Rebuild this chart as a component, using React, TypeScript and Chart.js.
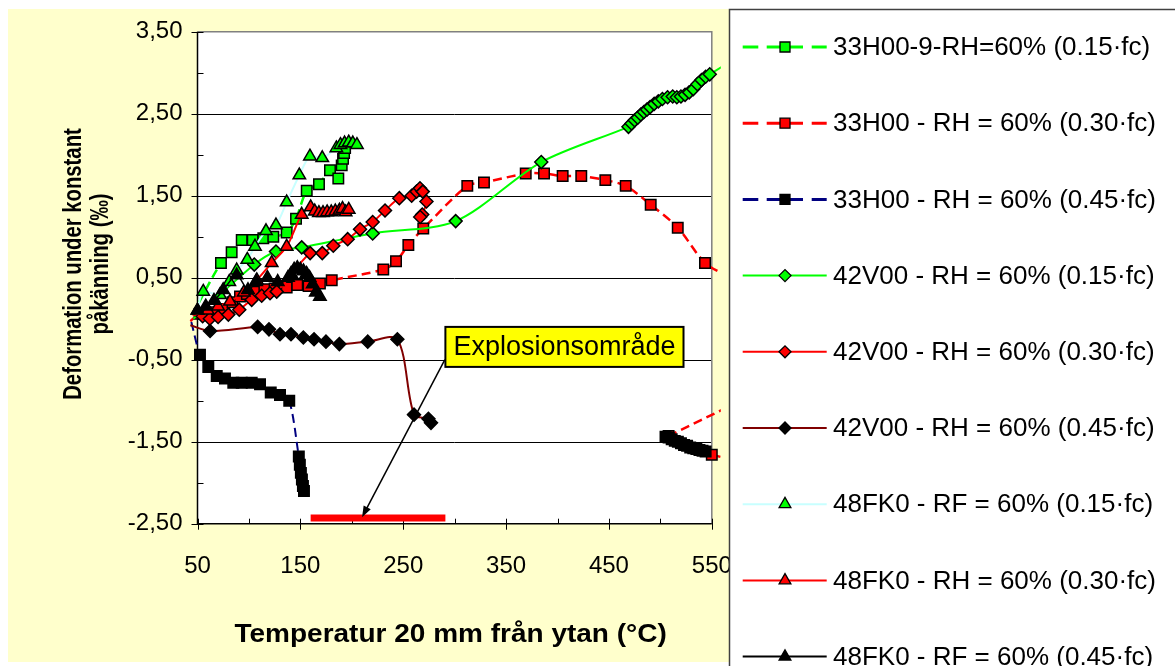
import React, { useEffect, useRef } from 'react';
import { Chart, registerables } from 'chart.js';

Chart.register(...registerables);

const FONT = '"Liberation Sans", Arial, Helvetica, sans-serif';

// ---------- axes ----------
const X_MIN = 50;
const X_MAX = 550;
const Y_MIN = -2.5;
const Y_MAX = 3.5;
const xTickLabels = [50, 150, 250, 350, 450, 550];
const yTickLabels = [3.5, 2.5, 1.5, 0.5, -0.5, -1.5, -2.5];
const xAxisTitle = 'Temperatur 20 mm från ytan (°C)';
const yAxisTitle = ['Deformation under konstant', 'påkänning (‰)'];

// ---------- series ----------
const seriesNames = [
  '33H00-9-RH=60% (0.15·fc)',
  '33H00 - RH = 60% (0.30·fc)',
  '33H00 - RH = 60% (0.45·fc)',
  '42V00 - RH = 60% (0.15·fc)',
  '42V00 - RH = 60% (0.30·fc)',
  '42V00 - RH = 60% (0.45·fc)',
  '48FK0 - RF = 60% (0.15·fc)',
  '48FK0 - RH = 60% (0.30·fc)',
  '48FK0 - RF = 60% (0.45·fc)',
];

// 33H00-9 (0.15 fc)
const s1X = [45, 72.8, 83.2, 93.0, 103.7, 114.0, 123.7, 136.7, 145.8, 156.2, 168.1, 178.8, 186.9, 190.2, 191.5, 192.5, 193.5];
const s1Y = [0.05, 0.68, 0.81, 0.96, 0.96, 0.98, 1.0, 1.05, 1.22, 1.56, 1.64, 1.81, 1.71, 1.87, 1.95, 2.02, 2.08];
// 33H00 (0.30 fc)
const s2X = [43, 52, 60, 68, 76, 84, 91.3, 98, 107, 115, 125, 136.7, 147, 158, 169, 180.5, 230.6, 243, 255, 269.5, 312.3, 328.5, 369.1, 386.9, 405, 423.1, 446.5, 466.3, 490.6, 516.9, 543.4, 565, null, 508, 570, null, 550, 570];
const s2Y = [-0.03, 0.06, 0.05, 0.08, 0.12, 0.2, 0.27, 0.3, 0.33, 0.36, 0.37, 0.38, 0.41, 0.4, 0.43, 0.47, 0.6, 0.7, 0.9, 1.1, 1.62, 1.66, 1.77, 1.77, 1.74, 1.74, 1.69, 1.62, 1.39, 1.11, 0.68, 0.52, null, -1.43, -1.05, null, -1.66, -1.72];
// 33H00 (0.45 fc)
const s3X = [44, 52.4, 60.5, 68.7, 76.7, 84.8, 93, 102.7, 110.8, 121.2, 130.2, 139.2, 148.5, 149.5, 150.5, 151.5, 152.5, 153.5, null, 505, 508, 511, 514, 517, 520, 523, 526, 529, 532, 535, 538, 541, 544];
const s3Y = [-0.04, -0.44, -0.59, -0.7, -0.73, -0.78, -0.78, -0.78, -0.8, -0.9, -0.93, -1.0, -1.68, -1.78, -1.88, -1.96, -2.04, -2.1, null, -1.44, -1.45, -1.47, -1.49, -1.5, -1.52, -1.54, -1.55, -1.57, -1.58, -1.59, -1.6, -1.61, -1.62];
// 42V00 (0.15 fc)
const s4X = [46, 105.2, 126.3, 151.3, 220.3, 301, 384.2, 469, 472, 475, 478, 481, 484, 487, 490, 494, 498, 502, 507, 512, 516, 520, 524, 528, 532, 536, 540, 544, 548, 570];
const s4Y = [0.0, 0.66, 0.82, 0.87, 1.04, 1.19, 1.91, 2.34, 2.38, 2.42, 2.45, 2.49, 2.52, 2.55, 2.58, 2.62, 2.65, 2.68, 2.7, 2.71, 2.7, 2.71, 2.73, 2.76, 2.8, 2.86, 2.91, 2.95, 2.98, 3.15];
// 42V00 (0.30 fc)
const s5X = [45, 55, 62, 70, 80, 90.6, 102.7, 112.4, 120.5, 127, 159.5, 171.3, 182, 196, 208, 220.3, 232.3, 246.2, 258.2, 263, 266.3, 269, 272.6, 268.5, 266.5];
const s5Y = [0.05, 0.03, 0.0, 0.02, 0.05, 0.11, 0.23, 0.28, 0.31, 0.33, 0.8, 0.8, 0.89, 0.97, 1.09, 1.18, 1.32, 1.47, 1.5, 1.55, 1.59, 1.55, 1.43, 1.27, 1.24];
// 42V00 (0.45 fc)
const s6X = [43, 62.2, 108.5, 119.5, 130.2, 140.9, 152.9, 163.3, 174.9, 187.9, 215.5, 244.3, 260.5, 274.5, 277];
const s6Y = [-0.08, -0.15, -0.1, -0.13, -0.19, -0.19, -0.23, -0.25, -0.28, -0.31, -0.28, -0.25, -1.17, -1.22, -1.27];
// 48FK0 RF (0.15 fc)
const s7X = [50, 55.6, 71.9, 80.9, 88.1, 98.4, 105.9, 116.6, 126.3, 136.7, 149, 159.3, 171.3, 185, 189, 193, 197, 201, 205];
const s7Y = [0.1, 0.33, 0.29, 0.45, 0.59, 0.72, 0.88, 1.07, 1.14, 1.42, 1.75, 1.98, 1.96, 2.08, 2.12, 2.14, 2.15, 2.14, 2.12];
// 48FK0 RH (0.30 fc)
const s8X = [48, 60, 70, 81.6, 95, 107.6, 122.1, 136.7, 151.3, 160, 164, 168, 172, 176, 180, 184, 188, 191, 194, 197];
const s8Y = [0.05, 0.1, 0.15, 0.21, 0.32, 0.47, 0.68, 0.88, 1.27, 1.36, 1.31, 1.29, 1.29, 1.3, 1.3, 1.31, 1.32, 1.34, 1.3, 1.33];
// 48FK0 RF (0.45 fc)
const s9X = [50, 58, 66, 75, 88.1, 99.1, 107, 118, 128, 138, 141, 144, 147, 150, 153, 156, 159, 162, 165, 169];
const s9Y = [0.1, 0.15, 0.22, 0.35, 0.53, 0.35, 0.45, 0.5, 0.45, 0.5, 0.55, 0.6, 0.62, 0.6, 0.58, 0.55, 0.5, 0.42, 0.32, 0.27];

const seriesX = [s1X, s2X, s3X, s4X, s5X, s6X, s7X, s8X, s9X];
const seriesY = [s1Y, s2Y, s3Y, s4Y, s5Y, s6Y, s7Y, s8Y, s9Y];

// explosion range (red bar) and its label
const explosionX = [160, 291];
const explosionY = [-2.43, -2.43];
const annotationText = 'Explosionsområde';
const annotationAnchor = { x: 291, y: -0.1 };
const arrowFrom = { x: 290.5, y: -0.5 };
const arrowTo = { x: 210, y: -2.42 };

// ---------- styles ----------
type Style = { line: string; width: number; dash: number[]; point: string; fill: string; r: number };
const DASH = [9, 5];
const STYLES: Style[] = [
  { line: '#00FF00', width: 2.5, dash: DASH, point: 'rect', fill: '#00FF00', r: 7.4 },
  { line: '#FF0000', width: 2.5, dash: DASH, point: 'rect', fill: '#FF0000', r: 7.4 },
  { line: '#000080', width: 2, dash: DASH, point: 'rect', fill: '#000000', r: 7.4 },
  { line: '#00FF00', width: 2, dash: [], point: 'rectRot', fill: '#00FF00', r: 6.5 },
  { line: '#FF0000', width: 2, dash: [], point: 'rectRot', fill: '#FF0000', r: 6.5 },
  { line: '#800000', width: 2, dash: [], point: 'rectRot', fill: '#000000', r: 6.5 },
  { line: '#C8FFFF', width: 2, dash: [], point: 'triangle', fill: '#00FF00', r: 7.2 },
  { line: '#FF0000', width: 2, dash: [], point: 'triangle', fill: '#FF0000', r: 7.2 },
  { line: '#000000', width: 1.5, dash: [], point: 'triangle', fill: '#000000', r: 7.2 },
];

const fmtY = (v: number) => v.toFixed(2).replace('.', ',');
const near = (a: number, b: number) => Math.abs(a - b) < 1e-6;

function legendMarker(ctx: CanvasRenderingContext2D, s: Style, x: number, y: number) {
  ctx.save();
  ctx.setLineDash([]);
  ctx.fillStyle = s.fill;
  ctx.strokeStyle = '#000';
  ctx.lineWidth = 1.3;
  ctx.beginPath();
  if (s.point === 'rect') {
    ctx.rect(x - 5, y - 5, 10, 10);
  } else if (s.point === 'rectRot') {
    ctx.moveTo(x - 6, y);
    ctx.lineTo(x, y - 6);
    ctx.lineTo(x + 6, y);
    ctx.lineTo(x, y + 6);
    ctx.closePath();
  } else {
    const r = 6.8;
    ctx.moveTo(x, y - r);
    ctx.lineTo(x + r * 0.866, y + r / 2);
    ctx.lineTo(x - r * 0.866, y + r / 2);
    ctx.closePath();
  }
  ctx.fill();
  ctx.stroke();
  ctx.restore();
}

const excelPlugin = {
  id: 'excelLook',
  beforeDraw(chart: any) {
    const ctx: CanvasRenderingContext2D = chart.ctx;
    const { left, right, top, bottom } = chart.chartArea;
    const ys = chart.scales.y;
    ctx.save();
    ctx.fillStyle = '#FFFFFF';
    ctx.fillRect(0, 0, chart.width, chart.height);
    ctx.fillStyle = '#FFFFCC';
    ctx.fillRect(8, 9, 721, 653);
    ctx.fillStyle = '#FFFFFF';
    ctx.fillRect(left, top, right - left, bottom - top);
    // horizontal gridlines
    ctx.strokeStyle = '#000000';
    ctx.lineWidth = 1;
    for (const v of yTickLabels) {
      if (near(v, Y_MIN) || near(v, Y_MAX)) continue;
      const py = Math.round(ys.getPixelForValue(v)) + 0.5;
      ctx.beginPath();
      ctx.moveTo(left, py);
      ctx.lineTo(right, py);
      ctx.stroke();
    }
    // plot border (top/right)
    ctx.strokeStyle = '#808080';
    ctx.lineWidth = 1.5;
    ctx.beginPath();
    ctx.moveTo(left, top);
    ctx.lineTo(right, top);
    ctx.lineTo(right, bottom);
    ctx.stroke();
    ctx.restore();
  },
  beforeDatasetsDraw(chart: any) {
    const ctx: CanvasRenderingContext2D = chart.ctx;
    const { left, right, top, bottom } = chart.chartArea;
    const xs = chart.scales.x;
    const ys = chart.scales.y;
    ctx.save();
    ctx.strokeStyle = '#000000';
    ctx.lineWidth = 1.5;
    ctx.beginPath();
    ctx.moveTo(left, top);
    ctx.lineTo(left, bottom);
    ctx.lineTo(right, bottom);
    ctx.stroke();
    ctx.lineWidth = 1;
    // x ticks
    for (let v = X_MIN; v <= X_MAX + 1e-6; v += 50) {
      const px = Math.round(xs.getPixelForValue(v)) + 0.5;
      const major = xTickLabels.some((t) => near(t, v));
      ctx.beginPath();
      ctx.moveTo(px, bottom - 5);
      ctx.lineTo(px, bottom + (major ? 6 : 0));
      ctx.stroke();
    }
    // y ticks
    for (let v = Y_MIN; v <= Y_MAX + 1e-6; v += 0.5) {
      const py = Math.round(ys.getPixelForValue(v)) + 0.5;
      const major = yTickLabels.some((t) => near(t, v));
      ctx.beginPath();
      ctx.moveTo(left - (major ? 6 : 0), py);
      ctx.lineTo(left + 6, py);
      ctx.stroke();
    }
    ctx.restore();
  },
  afterDraw(chart: any) {
    const ctx: CanvasRenderingContext2D = chart.ctx;
    const { left, right } = chart.chartArea;
    const xs = chart.scales.x;
    const ys = chart.scales.y;
    ctx.save();

    // axis titles
    ctx.fillStyle = '#000';
    ctx.textAlign = 'center';
    ctx.textBaseline = 'middle';
    ctx.font = `bold 25px ${FONT}`;
    ctx.save();
    ctx.translate((left + right) / 2 - 4, 635);
    ctx.scale(1.12, 1);
    ctx.fillText(xAxisTitle, 0, 0);
    ctx.restore();

    ctx.font = `bold 26px ${FONT}`;
    ctx.save();
    ctx.translate(74, 264);
    ctx.rotate(-Math.PI / 2);
    ctx.scale(0.78, 1);
    ctx.fillText(yAxisTitle[0], 0, 0);
    ctx.fillText(yAxisTitle[1], 0, 27);
    ctx.restore();

    // annotation arrow
    const ax0 = xs.getPixelForValue(arrowFrom.x);
    const ay0 = ys.getPixelForValue(arrowFrom.y);
    const ax1 = xs.getPixelForValue(arrowTo.x);
    const ay1 = ys.getPixelForValue(arrowTo.y);
    const ang = Math.atan2(ay1 - ay0, ax1 - ax0);
    ctx.strokeStyle = '#000';
    ctx.lineWidth = 1.5;
    ctx.beginPath();
    ctx.moveTo(ax0, ay0);
    ctx.lineTo(ax1 - Math.cos(ang) * 6, ay1 - Math.sin(ang) * 6);
    ctx.stroke();
    ctx.fillStyle = '#000';
    ctx.beginPath();
    ctx.moveTo(ax1, ay1);
    ctx.lineTo(ax1 - Math.cos(ang) * 11 + Math.sin(ang) * 4, ay1 - Math.sin(ang) * 11 - Math.cos(ang) * 4);
    ctx.lineTo(ax1 - Math.cos(ang) * 11 - Math.sin(ang) * 4, ay1 - Math.sin(ang) * 11 + Math.cos(ang) * 4);
    ctx.closePath();
    ctx.fill();

    // annotation box
    ctx.font = `27px ${FONT}`;
    const bx = xs.getPixelForValue(annotationAnchor.x);
    const by = ys.getPixelForValue(annotationAnchor.y);
    const tw = ctx.measureText(annotationText).width;
    const bw = tw + 16;
    const bh = 40;
    ctx.fillStyle = '#FFFF00';
    ctx.fillRect(bx, by, bw, bh);
    ctx.strokeStyle = '#000';
    ctx.lineWidth = 2;
    ctx.strokeRect(bx, by, bw, bh);
    ctx.fillStyle = '#000';
    ctx.textAlign = 'left';
    ctx.textBaseline = 'middle';
    ctx.fillText(annotationText, bx + 8, by + bh / 2 + 1);

    // legend
    ctx.fillStyle = '#FFFFFF';
    ctx.fillRect(729, 9, 460, 700);
    ctx.strokeStyle = '#404040';
    ctx.lineWidth = 1.5;
    ctx.strokeRect(729.5, 9.5, 460, 700);
    ctx.font = `26px ${FONT}`;
    ctx.textAlign = 'left';
    ctx.textBaseline = 'middle';
    STYLES.forEach((s, i) => {
      const y = 47 + i * 76.2;
      ctx.strokeStyle = s.line;
      ctx.lineWidth = s.dash.length ? 3 : 2;
      ctx.setLineDash(s.dash.length ? [15.6, 8.4, 36.3, 8.7, 15] : []);
      ctx.beginPath();
      ctx.moveTo(742.7, y);
      ctx.lineTo(826.7, y);
      ctx.stroke();
      ctx.setLineDash([]);
      legendMarker(ctx, s, 785, y);
      ctx.fillStyle = '#000';
      ctx.fillText(seriesNames[i], 833, y + 1);
    });
    ctx.restore();
  },
};

export default function App() {
  const ref = useRef<HTMLCanvasElement | null>(null);
  useEffect(() => {
    if (!ref.current) return;
    const n = STYLES.length;
    const datasets: any[] = seriesX.map((xsArr, i) => {
      const s = STYLES[i];
      return {
        label: seriesNames[i],
        data: xsArr.map((x, j) => ({
          x: x === null ? NaN : x,
          y: seriesY[i][j] === null ? NaN : seriesY[i][j],
        })),
        borderColor: s.line,
        borderWidth: s.width,
        borderDash: s.dash,
        backgroundColor: s.fill,
        pointStyle: s.point,
        pointBackgroundColor: s.fill,
        pointBorderColor: '#000000',
        pointBorderWidth: 1.5,
        pointRadius: (c: any) => {
          const x = c.raw ? c.raw.x : NaN;
          return !isFinite(x) || x < X_MIN || x > X_MAX + 0.5 ? 0 : s.r;
        },
        pointHoverRadius: 0,
        tension: 0.3,
        spanGaps: false,
        fill: false,
        clip: { left: 8, right: 9, top: 10, bottom: 5 },
        order: n - i + 1,
      };
    });
    datasets.push({
      label: 'Explosionsområde',
      data: explosionX.map((x, j) => ({ x, y: explosionY[j] })),
      borderColor: '#FF0000',
      borderWidth: 7,
      pointRadius: 0,
      borderCapStyle: 'butt',
      fill: false,
      order: 0,
    });

    const chart = new Chart(ref.current, {
      type: 'line',
      data: { datasets },
      plugins: [excelPlugin],
      options: {
        animation: false,
        responsive: false,
        maintainAspectRatio: false,
        events: [],
        layout: { padding: { left: 8, top: 31.7, right: 1175 - 711.8, bottom: 4 } },
        plugins: {
          legend: { display: false },
          tooltip: { enabled: false },
          title: { display: false },
        },
        scales: {
          x: {
            type: 'linear',
            min: X_MIN,
            max: X_MAX,
            grid: { display: false, drawTicks: true, tickLength: 8 },
            border: { display: false },
            afterFit: (sc: any) => {
              sc.height = 662 - 4 - 523.7 + 4;
            },
            ticks: {
              stepSize: 50,
              autoSkip: false,
              maxRotation: 0,
              minRotation: 0,
              padding: 20,
              color: '#000',
              font: { family: FONT, size: 24 },
              callback: (v: any) => (xTickLabels.some((t) => near(t, Number(v))) ? String(v) : ''),
            },
          },
          y: {
            type: 'linear',
            min: Y_MIN,
            max: Y_MAX,
            grid: { display: false, drawTicks: true, tickLength: 8 },
            border: { display: false },
            afterFit: (sc: any) => {
              sc.width = 197.5 - 8;
            },
            ticks: {
              stepSize: 0.5,
              autoSkip: false,
              padding: 7,
              color: '#000',
              font: { family: FONT, size: 24 },
              callback: (v: any) => (yTickLabels.some((t) => near(t, Number(v))) ? fmtY(Number(v)) : ''),
            },
          },
        },
      } as any,
    });
    return () => chart.destroy();
  }, []);

  return (
    <div style={{ position: 'absolute', left: 0, top: 0, width: 1175, height: 666, background: '#fff' }}>
      <canvas ref={ref} width={1175} height={666} style={{ display: 'block', width: 1175, height: 666 }} />
    </div>
  );
}
